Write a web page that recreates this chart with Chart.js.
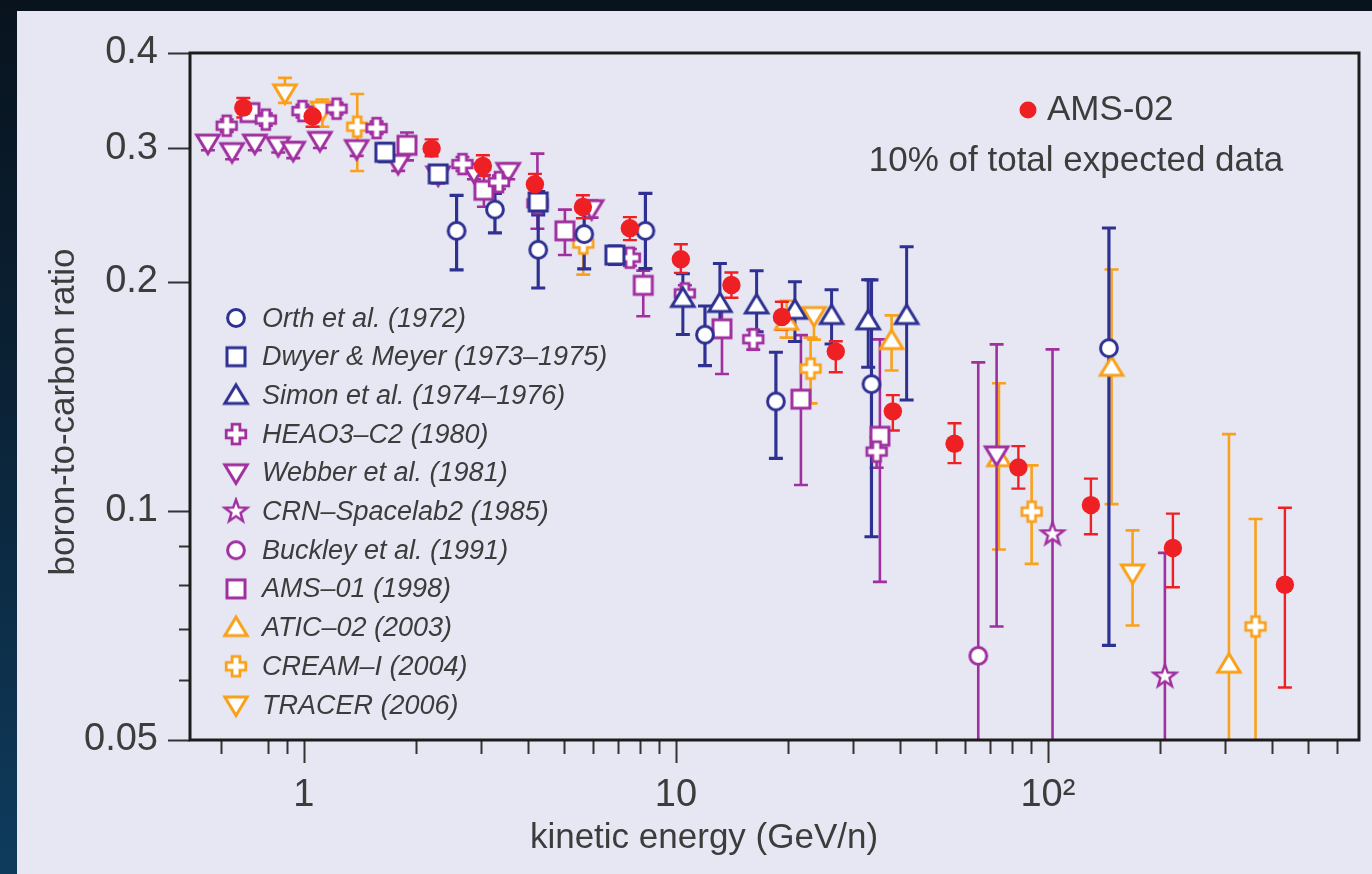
<!DOCTYPE html>
<html>
<head>
<meta charset="utf-8">
<title>Boron-to-carbon ratio</title>
<script src="https://cdn.jsdelivr.net/npm/chart.js@4.4.1/dist/chart.umd.min.js"></script>
<style>
  html, body { margin: 0; padding: 0; width: 1372px; height: 874px; overflow: hidden;
    background: linear-gradient(to bottom, #08131e 0%, #0b2236 45%, #0e3b5d 100%); }
  #panel { position: absolute; left: 17px; top: 11px; width: 1355px; height: 863px; background: #e7e7f3; }
  canvas { display: block; }
</style>
</head>
<body>
<div id="panel"><canvas id="bc" width="1355" height="863"></canvas></div>
<script>
// axis ticks
const X_TICKS = [0.6, 0.8, 0.9, 1, 2, 3, 4, 5, 6, 7, 8, 9, 10, 20, 30, 40, 50, 60, 70, 80, 90,
                 100, 200, 300, 400, 500, 600];
const X_LABELS = { 1: '1', 10: '10', 100: '10²' };
const Y_TICKS = [0.05, 0.06, 0.07, 0.08, 0.09, 0.1, 0.2, 0.3, 0.4];
const Y_LABELS = { 0.05: '0.05', 0.1: '0.1', 0.2: '0.2', 0.3: '0.3', 0.4: '0.4' };

// energy (GeV/n), B/C ratio, lower and upper error bound for each experiment
const AMS02_E  = [0.687, 1.055, 2.204, 3.028, 4.178, 5.623, 7.52, 10.31, 14.1, 19.27, 26.9, 38.3, 56.1, 83.3, 130.5, 216.8, 433.6];
const AMS02_BC = [0.339, 0.330, 0.2995, 0.2842, 0.2688, 0.251, 0.2354, 0.2143, 0.1982, 0.1799, 0.162, 0.1352, 0.1226, 0.1141, 0.1018, 0.0894, 0.080];
const AMS02_LO = [0.329, 0.320, 0.2926, 0.2757, 0.2616, 0.2426, 0.227, 0.2056, 0.1907, 0.173, 0.1522, 0.1276, 0.1156, 0.107, 0.0932, 0.0794, 0.0586];
const AMS02_HI = [0.349, 0.340, 0.308, 0.2935, 0.2774, 0.260, 0.2434, 0.2242, 0.2058, 0.1884, 0.1672, 0.142, 0.1304, 0.1217, 0.1103, 0.0992, 0.101];

const ORTH_E  = [2.573, 3.262, 4.264, 5.668, 8.28, 11.97, 18.57, 33.55, 145.9];
const ORTH_BC = [0.2335, 0.249, 0.2205, 0.2312, 0.2335, 0.1705, 0.1393, 0.1468, 0.1637];
const ORTH_LO = [0.2075, 0.232, 0.1964, 0.2081, 0.2083, 0.1553, 0.1173, 0.0925, 0.0666];
const ORTH_HI = [0.260, 0.2616, 0.245, 0.2525, 0.2616, 0.186, 0.1617, 0.2013, 0.2355];

const DWYER_E  = [1.651, 2.296, 4.264, 6.855];
const DWYER_BC = [0.2962, 0.2774, 0.2548, 0.217];
const DWYER_LO = [0.288, 0.270, 0.247, 0.211];
const DWYER_HI = [0.304, 0.284, 0.263, 0.223];

const SIMON_E  = [10.44, 13.13, 16.48, 20.89, 26.21, 32.88, 41.71];
const SIMON_BC = [0.1903, 0.1874, 0.1866, 0.1836, 0.1807, 0.1778, 0.1807];
const SIMON_LO = [0.1706, 0.172, 0.1721, 0.1671, 0.1658, 0.1545, 0.1399];
const SIMON_HI = [0.2051, 0.2115, 0.2069, 0.2001, 0.1954, 0.2014, 0.2225];

const HEAO_E  = [0.620, 0.790, 0.991, 1.224, 1.568, 2.668, 3.344, 4.243, 7.52, 10.57, 16.14, 34.64];
const HEAO_BC = [0.321, 0.327, 0.3355, 0.338, 0.3187, 0.2858, 0.2706, 0.2538, 0.2153, 0.1932, 0.1682, 0.1197];
const HEAO_LO = [0.315, 0.321, 0.329, 0.332, 0.313, 0.280, 0.265, 0.235, 0.210, 0.188, 0.163, 0.114];
const HEAO_HI = [0.327, 0.333, 0.342, 0.344, 0.325, 0.292, 0.276, 0.295, 0.221, 0.198, 0.173, 0.125];

const WEBBER_E  = [0.552, 0.641, 0.738, 0.853, 0.936, 1.104, 1.386, 1.792, 2.296, 2.864, 3.542, 5.934, 72.8];
const WEBBER_BC = [0.3045, 0.2968, 0.3045, 0.3023, 0.298, 0.307, 0.2995, 0.2864, 0.2765, 0.279, 0.2795, 0.2497, 0.1185];
const WEBBER_LO = [0.298, 0.290, 0.298, 0.296, 0.291, 0.300, 0.293, 0.280, 0.270, 0.273, 0.273, 0.243, 0.0705];
const WEBBER_HI = [0.311, 0.303, 0.311, 0.309, 0.305, 0.314, 0.306, 0.293, 0.283, 0.285, 0.286, 0.256, 0.1656];

const CRN_E  = [102.9, 206.3];
const CRN_BC = [0.0932, 0.0606];
const CRN_LO = [0.03, 0.03];
const CRN_HI = [0.1631, 0.0881];

const BUCKLEY_E  = [64.98];
const BUCKLEY_BC = [0.0645];
const BUCKLEY_LO = [0.03];
const BUCKLEY_HI = [0.1568];

const AMS01_E  = [0.716, 1.892, 3.047, 5.03, 8.17, 13.3, 21.68, 35.35];
const AMS01_BC = [0.334, 0.3025, 0.264, 0.2335, 0.198, 0.1736, 0.1403, 0.1254];
const AMS01_LO = [0.327, 0.289, 0.2512, 0.217, 0.1803, 0.1514, 0.1082, 0.0807];
const AMS01_HI = [0.341, 0.3144, 0.2765, 0.249, 0.207, 0.1834, 0.1703, 0.1681];

const ATIC_E  = [19.84, 38.0, 73.86, 148.3, 306.7];
const ATIC_BC = [0.1776, 0.1675, 0.1175, 0.1545, 0.0629];
const ATIC_LO = [0.169, 0.153, 0.089, 0.1021, 0.03];
const ATIC_HI = [0.189, 0.1808, 0.1472, 0.2077, 0.1262];

const CREAM_E  = [1.391, 5.635, 23.02, 90.42, 361.6];
const CREAM_BC = [0.320, 0.2247, 0.1539, 0.0998, 0.0705];
const CREAM_LO = [0.2799, 0.2045, 0.1385, 0.0852, 0.03];
const CREAM_HI = [0.3533, 0.234, 0.169, 0.1148, 0.0976];

const TRACER_E  = [0.889, 1.121, 23.5, 168.9];
const TRACER_BC = [0.3545, 0.3365, 0.1807, 0.0829];
const TRACER_LO = [0.344, 0.320, 0.168, 0.0707];
const TRACER_HI = [0.371, 0.3475, 0.184, 0.0943];

const NAVY = '#2e3192';
const PURPLE = '#a0309f';
const ORANGE = '#f9a11b';
const RED = '#ee2024';
const TEXT = '#3c3c3c';
const FONT = '"Liberation Sans", Arial, sans-serif';

// AMS-02 first so it is drawn on top
const series = [
    { label: 'AMS-02', e: AMS02_E, r: AMS02_BC, lo: AMS02_LO, hi: AMS02_HI, color: RED, shape: 'dot', bar: 2.4 },
    { label: 'Orth et al. (1972)', e: ORTH_E, r: ORTH_BC, lo: ORTH_LO, hi: ORTH_HI, color: NAVY, shape: 'circle', bar: 3.2 },
    { label: 'Dwyer & Meyer (1973–1975)', e: DWYER_E, r: DWYER_BC, lo: DWYER_LO, hi: DWYER_HI, color: NAVY, shape: 'square', bar: 3.2 },
    { label: 'Simon et al. (1974–1976)', e: SIMON_E, r: SIMON_BC, lo: SIMON_LO, hi: SIMON_HI, color: NAVY, shape: 'up', bar: 3 },
    { label: 'HEAO3–C2 (1980)', e: HEAO_E, r: HEAO_BC, lo: HEAO_LO, hi: HEAO_HI, color: PURPLE, shape: 'cross', bar: 2.6 },
    { label: 'Webber et al. (1981)', e: WEBBER_E, r: WEBBER_BC, lo: WEBBER_LO, hi: WEBBER_HI, color: PURPLE, shape: 'down', bar: 2.6 },
    { label: 'CRN–Spacelab2 (1985)', e: CRN_E, r: CRN_BC, lo: CRN_LO, hi: CRN_HI, color: PURPLE, shape: 'star', bar: 2.6 },
    { label: 'Buckley et al. (1991)', e: BUCKLEY_E, r: BUCKLEY_BC, lo: BUCKLEY_LO, hi: BUCKLEY_HI, color: PURPLE, shape: 'circle', bar: 2.6 },
    { label: 'AMS–01 (1998)', e: AMS01_E, r: AMS01_BC, lo: AMS01_LO, hi: AMS01_HI, color: PURPLE, shape: 'square', bar: 2.6 },
    { label: 'ATIC–02 (2003)', e: ATIC_E, r: ATIC_BC, lo: ATIC_LO, hi: ATIC_HI, color: ORANGE, shape: 'up', bar: 2.6 },
    { label: 'CREAM–I (2004)', e: CREAM_E, r: CREAM_BC, lo: CREAM_LO, hi: CREAM_HI, color: ORANGE, shape: 'cross', bar: 2.6 },
    { label: 'TRACER (2006)', e: TRACER_E, r: TRACER_BC, lo: TRACER_LO, hi: TRACER_HI, color: ORANGE, shape: 'down', bar: 2.6 }
];

// open marker drawn once on a small canvas, used as point style and in the legend
function markerCanvas(shape, color) {
    const c = document.createElement('canvas');
    c.width = 30; c.height = 30;
    const g = c.getContext('2d');
    g.translate(15, 15);
    g.lineWidth = 3;
    g.strokeStyle = color;
    g.fillStyle = '#ffffff';
    g.lineJoin = 'miter';
    g.beginPath();
    if (shape === 'circle') {
        g.arc(0, 0, 8.4, 0, Math.PI * 2);
    } else if (shape === 'square') {
        g.rect(-9, -9, 18, 18);
    } else if (shape === 'up') {
        g.moveTo(0, -10.5); g.lineTo(11.2, 8); g.lineTo(-11.2, 8); g.closePath();
    } else if (shape === 'down') {
        g.moveTo(0, 10.5); g.lineTo(11.2, -8); g.lineTo(-11.2, -8); g.closePath();
    } else if (shape === 'cross') {
        const a = 9.8, b = 3.9;
        const pts = [[-b, -a], [b, -a], [b, -b], [a, -b], [a, b], [b, b], [b, a], [-b, a], [-b, b], [-a, b], [-a, -b], [-b, -b]];
        pts.forEach((p, i) => i ? g.lineTo(p[0], p[1]) : g.moveTo(p[0], p[1]));
        g.closePath();
        g.lineWidth = 2.8;
    } else if (shape === 'star') {
        for (let i = 0; i < 10; i++) {
            const r = i % 2 ? 4.8 : 11.8;
            const t = -Math.PI / 2 + i * Math.PI / 5;
            i ? g.lineTo(r * Math.cos(t), r * Math.sin(t)) : g.moveTo(r * Math.cos(t), r * Math.sin(t));
        }
        g.closePath();
        g.lineWidth = 2.5;
    }
    g.fill();
    g.stroke();
    return c;
}

series.forEach(s => { s.marker = s.shape === 'dot' ? null : markerCanvas(s.shape, s.color); });

const datasets = series.map(s => ({
    label: s.label,
    data: s.e.map((x, i) => ({ x: x, y: s.r[i], lo: s.lo[i], hi: s.hi[i] })),
    pointStyle: s.marker || 'circle',
    pointRadius: s.marker ? 13 : 9.2,
    pointHoverRadius: s.marker ? 13 : 9.2,
    pointBackgroundColor: s.color,
    pointBorderWidth: 0,
    showLine: false,
    barColor: s.color,
    barWidth: s.bar
}));

// vertical error bars with caps, under the markers
const errorBars = {
    id: 'errorBars',
    beforeDatasetsDraw(chart) {
        const { ctx, chartArea: a, scales: { x, y } } = chart;
        ctx.save();
        ctx.beginPath();
        ctx.rect(a.left, a.top, a.width, a.height);
        ctx.clip();
        chart.data.datasets.slice().reverse().forEach(ds => {
            ctx.strokeStyle = ds.barColor;
            ctx.lineWidth = ds.barWidth;
            ds.data.forEach(p => {
                const px = x.getPixelForValue(p.x);
                const top = y.getPixelForValue(p.hi);
                const bot = y.getPixelForValue(p.lo);
                ctx.beginPath();
                ctx.moveTo(px, top); ctx.lineTo(px, bot);
                ctx.moveTo(px - 7, top); ctx.lineTo(px + 7, top);
                ctx.moveTo(px - 7, bot); ctx.lineTo(px + 7, bot);
                ctx.stroke();
            });
        });
        ctx.restore();
    }
};

// frame, outward tick marks, axis titles and the two legends
const decorations = {
    id: 'decorations',
    afterDraw(chart) {
        const { ctx, chartArea: a, scales: { x, y } } = chart;
        ctx.save();

        ctx.strokeStyle = '#333333';
        ctx.lineWidth = 2;
        ctx.beginPath();
        X_TICKS.forEach(v => {
            const px = Math.round(x.getPixelForValue(v)) + 0.5;
            ctx.moveTo(px, a.bottom);
            ctx.lineTo(px, a.bottom + (X_LABELS[v] ? 23 : 14));
        });
        Y_TICKS.forEach(v => {
            const py = Math.round(y.getPixelForValue(v)) + 0.5;
            ctx.moveTo(a.left, py);
            ctx.lineTo(a.left - (Y_LABELS[v] ? 22 : 11), py);
        });
        ctx.stroke();

        ctx.strokeStyle = '#1c1c1c';
        ctx.lineWidth = 3;
        ctx.strokeRect(a.left, a.top, a.width, a.height);

        ctx.fillStyle = TEXT;
        ctx.font = '35px ' + FONT;
        ctx.textAlign = 'center';
        ctx.textBaseline = 'middle';
        ctx.fillText('kinetic energy (GeV/n)', 687, 827);

        ctx.save();
        ctx.translate(47, 401);
        ctx.rotate(-Math.PI / 2);
        ctx.fillText('boron-to-carbon ratio', 0, 0);
        ctx.restore();

        // AMS-02 key in the top right
        ctx.fillStyle = RED;
        ctx.beginPath();
        ctx.arc(1011, 99, 8.5, 0, Math.PI * 2);
        ctx.fill();
        ctx.fillStyle = TEXT;
        ctx.textAlign = 'left';
        ctx.fillText('AMS-02', 1030, 99);
        ctx.textAlign = 'center';
        ctx.fillText('10% of total expected data', 1059, 150);

        // other experiments, listed down the left side
        ctx.font = 'italic 27px ' + FONT;
        ctx.textAlign = 'left';
        series.slice(1).forEach((s, i) => {
            const cy = 307 + i * 38.7;
            ctx.drawImage(s.marker, 219 - 15, cy - 15);
            ctx.fillText(s.label, 245, cy + 1);
        });

        ctx.restore();
    }
};

Chart.defaults.font.family = FONT;
Chart.defaults.color = TEXT;

new Chart(document.getElementById('bc'), {
    type: 'scatter',
    data: { datasets: datasets },
    options: {
        responsive: false,
        animation: false,
        events: [],
        layout: { padding: { left: 0, top: 42, right: 13, bottom: 0 } },
        plugins: {
            legend: { display: false },
            tooltip: { enabled: false }
        },
        scales: {
            x: {
                type: 'logarithmic',
                bounds: 'data',
                min: 0.494,
                max: 686,
                grid: { display: false, drawTicks: false },
                border: { display: false },
                afterBuildTicks: scale => { scale.ticks = X_TICKS.map(v => ({ value: v })); },
                afterFit: scale => {
                    scale.height = 134;
                    scale.paddingLeft = 0;
                    scale.paddingRight = 0;
                },
                ticks: {
                    autoSkip: false,
                    maxRotation: 0,
                    padding: 33,
                    color: TEXT,
                    font: { size: 38 },
                    callback: v => X_LABELS[v] || ''
                }
            },
            y: {
                type: 'logarithmic',
                bounds: 'data',
                min: 0.05,
                max: 0.4,
                grid: { display: false, drawTicks: false },
                border: { display: false },
                afterBuildTicks: scale => { scale.ticks = Y_TICKS.map(v => ({ value: v })); },
                afterFit: scale => {
                    scale.width = 173;
                    scale.paddingTop = 0;
                    scale.paddingBottom = 0;
                },
                ticks: {
                    autoSkip: false,
                    padding: 32,
                    color: TEXT,
                    font: { size: 38 },
                    callback: v => Y_LABELS[v] || ''
                }
            }
        }
    },
    plugins: [errorBars, decorations]
});
</script>
</body>
</html>
